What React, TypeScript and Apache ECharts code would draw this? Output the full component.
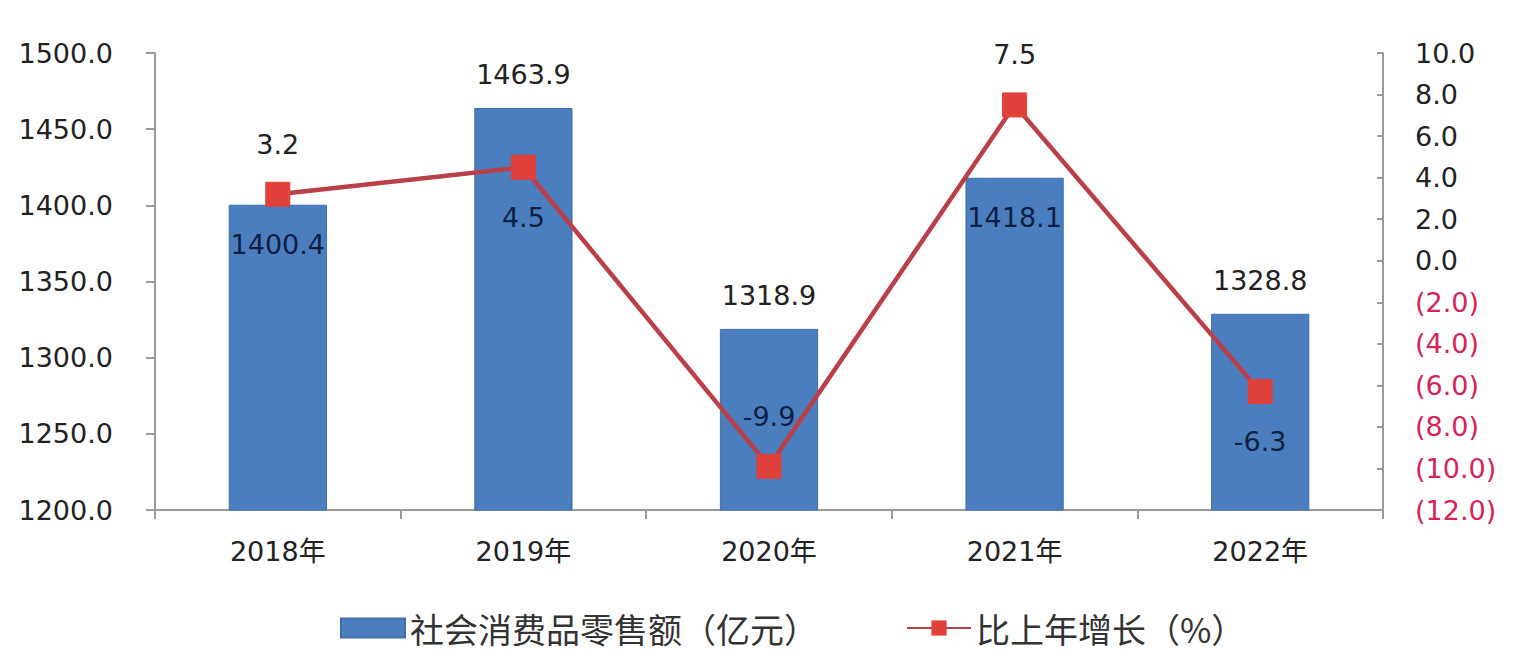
import React, { useEffect, useRef } from "react";
import * as echarts from "echarts";

const categories = ["2018年", "2019年", "2020年", "2021年", "2022年"];
const retailSales = [1400.4, 1463.9, 1318.9, 1418.1, 1328.8];
const growth = [3.2, 4.5, -9.9, 7.5, -6.3];
const barLabelPos = ["insideTop", "top", "top", "insideTop", "top"];
const lineLabelPos = ["top", "bottom", "top", "top", "bottom"];

const barName = "社会消费品零售额（亿元）";
const lineName = "比上年增长（%）";

export default function App() {
  const ref = useRef<HTMLDivElement>(null);

  useEffect(() => {
    if (!ref.current) return;
    const chart = echarts.init(ref.current, null, { renderer: "svg" });
    const numFont = "DejaVu Sans";
    const cjkFont = "'DejaVu Sans', 'Noto Sans CJK SC'";
    chart.setOption({
      animation: false,
      backgroundColor: "#ffffff",
      grid: { left: 155, right: 143, top: 53, bottom: 152 },
      legend: {
        bottom: 12,
        left: 335,
        itemGap: 88,
        itemWidth: 64,
        itemHeight: 19,
        textStyle: { fontFamily: "'Noto Sans CJK SC'", fontSize: 34, color: "#333" },
        data: [
          { name: barName, icon: "rect" },
          { name: lineName },
        ],
      },
      xAxis: {
        type: "category",
        data: categories,
        axisLine: { onZero: false, lineStyle: { color: "#9a9a9a", width: 2 } },
        axisTick: { show: true, length: 9, alignWithLabel: false, lineStyle: { color: "#9a9a9a", width: 2 } },
        axisLabel: { margin: 28, fontSize: 27, color: "#222", fontFamily: cjkFont },
      },
      yAxis: [
        {
          type: "value",
          min: 1200,
          max: 1500,
          interval: 50,
          splitLine: { show: false },
          axisLine: { show: true, lineStyle: { color: "#9a9a9a", width: 2 } },
          axisTick: { show: true, length: 9, lineStyle: { color: "#9a9a9a", width: 2 } },
          axisLabel: {
            margin: 42,
            fontSize: 27,
            color: "#222",
            fontFamily: numFont,
            formatter: (v: number) => v.toFixed(1),
          },
        },
        {
          type: "value",
          min: -12,
          max: 10,
          interval: 2,
          position: "right",
          splitLine: { show: false },
          axisLine: { show: true, lineStyle: { color: "#9a9a9a", width: 2 } },
          axisTick: { show: true, inside: true, length: 6, lineStyle: { color: "#9a9a9a", width: 2 } },
          axisLabel: {
            margin: 32,
            fontSize: 27,
            fontFamily: numFont,
            color: (v: any) => (Number(v) < 0 ? "#d4245a" : "#222"),
            formatter: (v: number) => (v < 0 ? `(${Math.abs(v).toFixed(1)})` : v.toFixed(1)),
          },
        },
      ],
      series: [
        {
          name: barName,
          type: "bar",
          yAxisIndex: 0,
          barWidth: "40%",
          itemStyle: { color: "#4a7ebe", borderColor: "#3f6fa8", borderWidth: 1 },
          data: retailSales.map((v, i) => ({
            value: v,
            label: {
              show: true,
              position: barLabelPos[i],
              distance: barLabelPos[i] === "top" ? 20 : 26,
              fontSize: 27,
              fontFamily: numFont,
              color: barLabelPos[i] === "top" ? "#222" : "#0f1e42",
              formatter: (p: any) => Number(p.value).toFixed(1),
            },
          })),
        },
        {
          name: lineName,
          type: "line",
          yAxisIndex: 1,
          symbol: "rect",
          symbolSize: 24,
          lineStyle: { color: "#bb3f48", width: 4.5 },
          itemStyle: { color: "#e0413a", borderColor: "#e0413a" },
          data: growth.map((v, i) => ({
            value: v,
            label: {
              show: true,
              position: lineLabelPos[i],
              distance: 24,
              fontSize: 27,
              fontFamily: numFont,
              color: lineLabelPos[i] === "bottom" || i === 2 ? "#0f1e42" : "#222",
              formatter: (p: any) => Number(p.value).toFixed(1),
            },
          })),
        },
      ],
    });
    return () => chart.dispose();
  }, []);

  return (
    <div
      ref={ref}
      style={{ position: "fixed", left: 0, top: 0, width: 1526, height: 662, background: "#fff" }}
    />
  );
}
